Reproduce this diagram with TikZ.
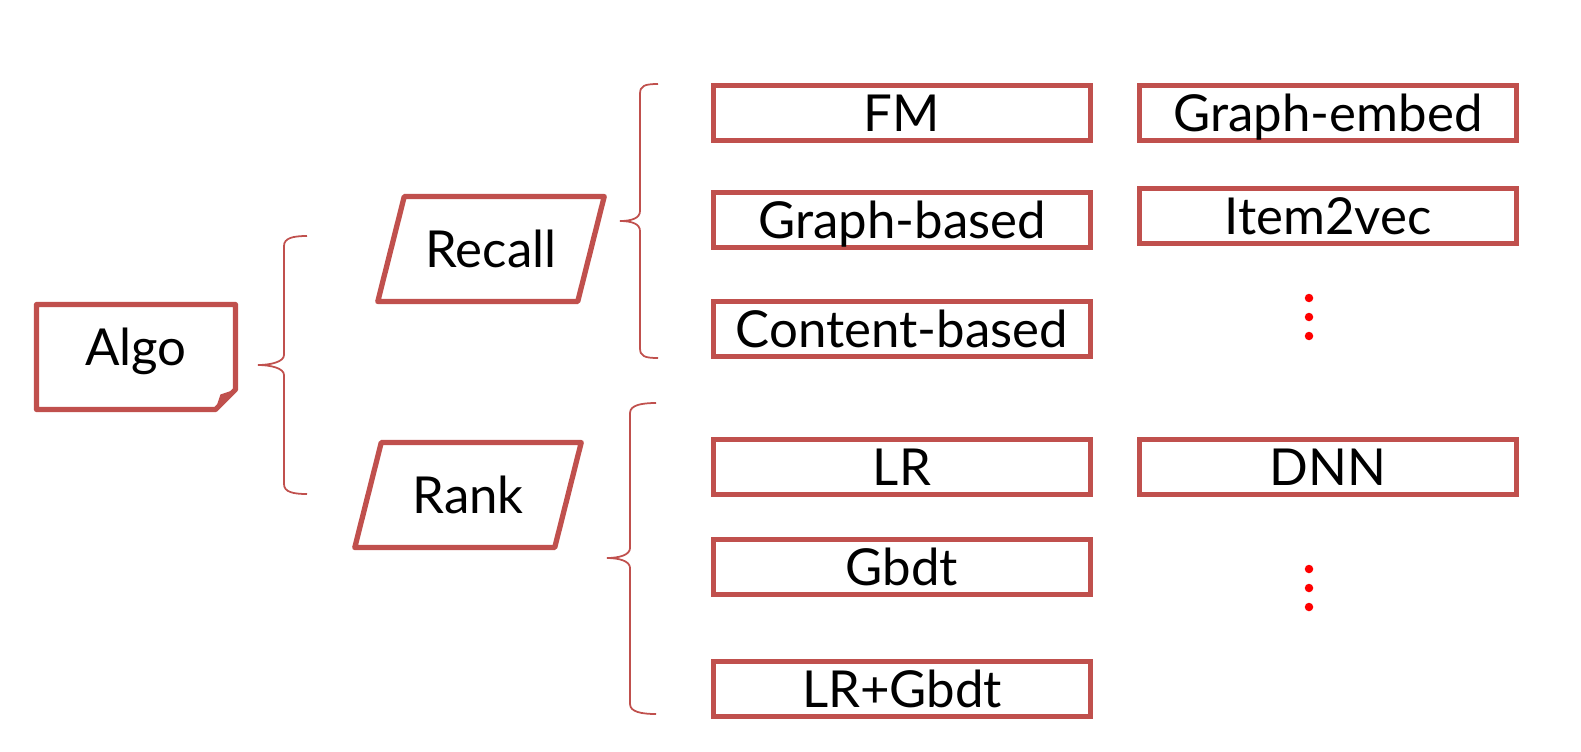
\documentclass[tikz,border=0pt]{standalone}
\usepackage{fontspec}
\setmainfont{Lato}
\usetikzlibrary{calc}
\definecolor{boxred}{RGB}{192,80,77}
% curly brace: top end, tip, bottom end, tip-to-stem distance
\newcommand{\curlybrace}[4]{%
  \draw[bracestroke] (#1) .. controls +(-14,0) and +(0,-8) .. ($(#1 -| #2)+(#4,10)$)
    -- ($(#2)+(#4,-10)$) .. controls +(0,7) and +(12,0) .. (#2)
    .. controls +(12,0) and +(0,-7) .. ($(#2)+(#4,10)$)
    -- ($(#3 -| #2)+(#4,-10)$) .. controls +(0,8) and +(-14,0) .. (#3);}
\begin{document}
\begin{tikzpicture}[x=0.02cm, y=-0.02cm,
    every node/.style={inner sep=0pt},
    lbl/.style={font=\fontsize{29}{34}\selectfont, text height=20.9pt, text depth=0pt},
    algbox/.style={lbl, rectangle, draw=boxred, line width=3pt, fill=white, minimum width=7.54cm, minimum height=1.1cm},
    stage/.style={lbl, rectangle, outer sep=0pt, minimum width=4cm, minimum height=2.1cm},
    outline/.style={draw=boxred, line width=3pt, line join=round},
    bracestroke/.style={draw=boxred, line width=1pt},
    reddot/.style={circle, fill=red, minimum size=0.17cm}]
  \useasboundingbox (0,0) rectangle (1581,751);

  \node[lbl, text depth=0.4cm, minimum width=3.98cm, minimum height=2.1cm, outer sep=0pt] (algo) at (136,357) {Algo};
  \draw[outline] (algo.north west) -- (algo.north east) -- ([yshift=0.4cm]algo.south east) -- ([xshift=-0.4cm]algo.south east) -- (algo.south west) -- cycle;
  \fill[boxred] ([yshift=0.4cm]algo.south east) -- ([xshift=-0.4cm]algo.south east) -- ([xshift=-0.3cm,yshift=0.3cm]algo.south east) -- cycle;

  \node[stage] (recall) at (491,249) {Recall};
  \node[stage] (rank) at (468,495) {Rank};
  \foreach \s in {recall,rank}
    \draw[outline] ([xshift=0.265cm]\s.north west) -- ([xshift=0.265cm]\s.north east) -- ([xshift=-0.265cm]\s.south east) -- ([xshift=-0.265cm]\s.south west) -- cycle;

  \node[algbox] (fm) at (902,113) {FM};
  \node[algbox] (gb) at (902,220) {Graph-based};
  \node[algbox] (cb) at (902,329) {Content-based};
  \node[algbox] (lr) at (902,467) {LR};
  \node[algbox] (gbdt) at (902,567) {Gbdt};
  \node[algbox] (lrgbdt) at (902,689) {LR+Gbdt};

  \node[algbox] (ge) at (1328,113) {Graph-embed};
  \node[algbox] (i2v) at (1328,216) {Item2vec};
  \node[algbox] (dnn) at (1328,467) {DNN};

  \foreach \y [count=\i] in {298,317,336}
    \node[reddot] (da\i) at (1309,\y) {};
  \foreach \y [count=\i] in {569,588,607}
    \node[reddot] (db\i) at (1309,\y) {};

  \coordinate (al-top) at (307,236);
  \coordinate (al-tip) at (258,365);
  \coordinate (al-bot) at (307,494);
  \coordinate (rc-top) at (658,84);
  \coordinate (rc-tip) at (620,221);
  \coordinate (rc-bot) at (658,358);
  \coordinate (rk-top) at (656,403);
  \coordinate (rk-tip) at (607,558);
  \coordinate (rk-bot) at (656,714);
  \curlybrace{al-top}{al-tip}{al-bot}{26}
  \curlybrace{rc-top}{rc-tip}{rc-bot}{20}
  \curlybrace{rk-top}{rk-tip}{rk-bot}{23}
\end{tikzpicture}
\end{document}
